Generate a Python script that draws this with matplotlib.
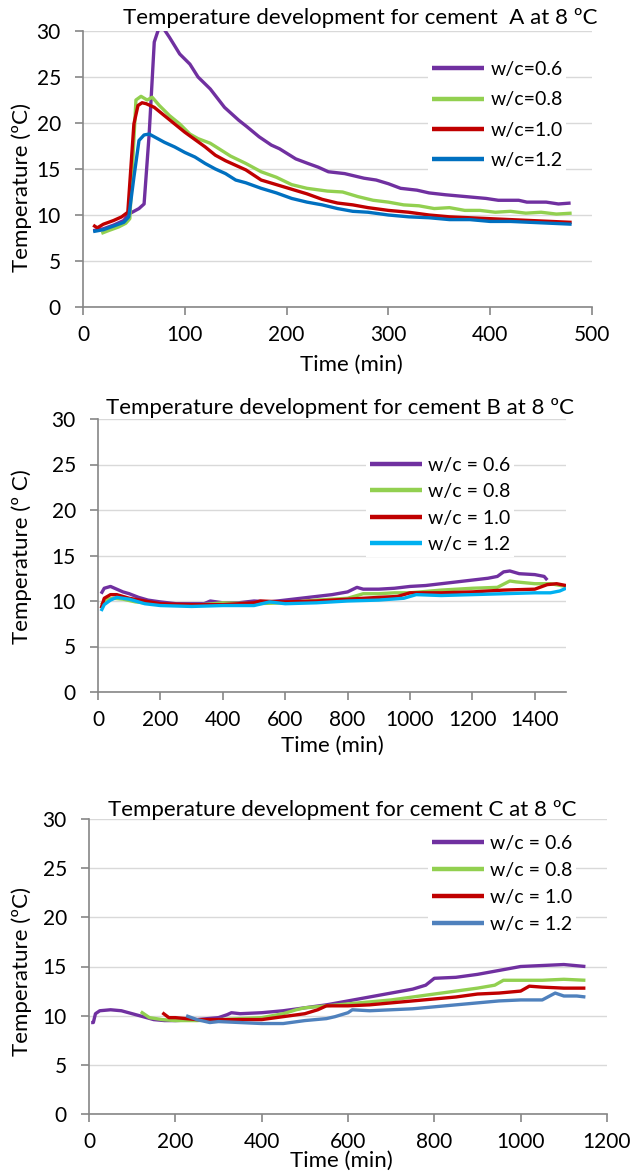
import matplotlib.pyplot as plt

plt.rcParams['font.family'] = ['Lato', 'DejaVu Sans']

W, H = 630, 1173

# ---- cement A ----
a_t06 = [10, 20, 30, 40, 45, 55, 60, 65, 70, 76, 85, 95, 105, 113, 125, 139, 153, 161, 173, 185, 193, 209, 221,
         231, 241, 257, 276, 288, 300, 312, 328, 340, 356, 376, 396, 408, 428, 436, 455, 467, 479]
a_T06 = [8.3, 8.5, 8.9, 9.4, 10.1, 10.7, 11.2, 18.8, 28.8, 30.8, 29.3, 27.5, 26.4, 25.0, 23.7, 21.7, 20.3, 19.6,
         18.5, 17.6, 17.2, 16.1, 15.6, 15.2, 14.7, 14.5, 14.0, 13.8, 13.4, 12.9, 12.7, 12.4, 12.2, 12.0, 11.8, 11.6,
         11.6, 11.4, 11.4, 11.2, 11.3]
a_t08 = [18, 25, 35, 42, 46, 52, 57, 63, 68, 75, 85, 95, 105, 113, 125, 135, 145, 160, 175, 190, 205, 220, 240,
         255, 270, 285, 300, 315, 330, 345, 360, 375, 390, 405, 420, 435, 450, 465, 480]
a_T08 = [8.0, 8.3, 8.7, 9.1, 9.6, 22.5, 22.9, 22.5, 22.8, 21.9, 20.8, 19.9, 18.8, 18.3, 17.8, 17.1, 16.4, 15.6,
         14.7, 14.1, 13.3, 12.9, 12.6, 12.5, 12.0, 11.6, 11.4, 11.1, 11.0, 10.7, 10.8, 10.5, 10.5, 10.3, 10.4,
         10.2, 10.3, 10.1, 10.2]
a_t10 = [10, 14, 20, 30, 38, 44, 50, 54, 58, 62, 70, 80, 90, 100, 110, 120, 130, 140, 150, 160, 175, 190, 205,
         220, 235, 250, 265, 280, 300, 320, 340, 360, 380, 400, 420, 440, 460, 480]
a_T10 = [8.9, 8.6, 9.0, 9.4, 9.8, 10.3, 19.9, 21.9, 22.2, 22.1, 21.7, 20.8, 19.9, 19.0, 18.2, 17.4, 16.5, 15.9,
         15.4, 14.9, 13.8, 13.3, 12.8, 12.3, 11.7, 11.3, 11.1, 10.8, 10.5, 10.3, 10.0, 9.8, 9.7, 9.6, 9.5, 9.4,
         9.3, 9.2]
a_t12 = [10, 20, 30, 40, 45, 50, 55, 60, 65, 70, 80, 90, 100, 110, 120, 130, 140, 150, 160, 175, 190, 205, 220,
         235, 250, 265, 280, 300, 320, 340, 360, 380, 400, 420, 440, 460, 480]
a_T12 = [8.2, 8.4, 8.8, 9.2, 9.8, 14.1, 18.1, 18.7, 18.8, 18.5, 17.9, 17.4, 16.8, 16.3, 15.6, 15.0, 14.5, 13.8,
         13.5, 12.9, 12.4, 11.8, 11.4, 11.1, 10.7, 10.4, 10.3, 10.0, 9.8, 9.7, 9.5, 9.5, 9.3, 9.3, 9.2, 9.1, 9.0]

# ---- cement B ----
b_t06 = [10, 20, 40, 60, 80, 100, 130, 160, 200, 250, 300, 340, 360, 380, 400, 450, 500, 550, 600, 650, 700,
         750, 800, 830, 850, 900, 950, 1000, 1050, 1100, 1150, 1200, 1250, 1280, 1300, 1320, 1350, 1400, 1430, 1440]
b_T06 = [10.8, 11.4, 11.6, 11.3, 11.0, 10.8, 10.4, 10.1, 9.9, 9.7, 9.7, 9.7, 10.0, 9.9, 9.8, 9.8, 10.0, 9.9,
         10.1, 10.3, 10.5, 10.7, 11.0, 11.5, 11.3, 11.3, 11.4, 11.6, 11.7, 11.9, 12.1, 12.3, 12.5, 12.7, 13.2,
         13.3, 13.0, 12.9, 12.7, 12.3]
b_t08 = [10, 30, 50, 80, 120, 200, 300, 400, 500, 600, 700, 800, 850, 900, 950, 1000, 1100, 1200, 1280, 1320,
         1340, 1400, 1450, 1500]
b_T08 = [9.6, 10.2, 10.3, 10.2, 9.9, 9.6, 9.5, 9.8, 9.7, 9.8, 10.1, 10.3, 10.8, 10.8, 10.9, 10.9, 11.2, 11.4,
         11.5, 12.2, 12.1, 11.9, 11.9, 11.6]
b_t10 = [10, 20, 40, 60, 100, 150, 200, 300, 400, 500, 520, 600, 700, 800, 900, 960, 1000, 1100, 1200, 1300,
         1400, 1440, 1470, 1500]
b_T10 = [9.2, 10.3, 10.7, 10.7, 10.3, 10.0, 9.7, 9.6, 9.6, 9.8, 10.0, 9.9, 10.0, 10.2, 10.4, 10.5, 10.9, 10.9,
         11.0, 11.2, 11.3, 11.8, 11.9, 11.7]
b_t12 = [10, 20, 40, 60, 100, 150, 200, 300, 400, 500, 550, 600, 700, 800, 900, 980, 1020, 1100, 1200, 1300,
         1400, 1450, 1480, 1500]
b_T12 = [8.9, 9.6, 10.1, 10.4, 10.2, 9.7, 9.5, 9.4, 9.5, 9.5, 9.9, 9.7, 9.8, 10.0, 10.1, 10.3, 10.7, 10.6,
         10.7, 10.8, 10.9, 10.9, 11.1, 11.4]

# ---- cement C ----
c_t06 = [5, 10, 15, 25, 50, 75, 100, 125, 150, 175, 200, 250, 300, 320, 330, 350, 400, 450, 500, 550, 600, 650,
         700, 750, 780, 800, 850, 900, 950, 1000, 1050, 1100, 1150]
c_T06 = [9.3, 9.3, 10.2, 10.5, 10.6, 10.5, 10.2, 9.9, 9.6, 9.5, 9.5, 9.6, 9.8, 10.1, 10.3, 10.2, 10.3, 10.5,
         10.8, 11.1, 11.5, 11.9, 12.3, 12.7, 13.1, 13.8, 13.9, 14.2, 14.6, 15.0, 15.1, 15.2, 15.0]
c_t08 = [120, 140, 170, 200, 250, 300, 350, 400, 450, 480, 500, 550, 600, 650, 700, 750, 800, 850, 900, 940, 960,
         1000, 1050, 1100, 1150]
c_T08 = [10.4, 9.8, 9.6, 9.5, 9.5, 9.6, 9.7, 9.8, 10.2, 10.6, 10.8, 11.0, 11.2, 11.4, 11.6, 11.9, 12.2, 12.5,
         12.8, 13.1, 13.6, 13.6, 13.6, 13.7, 13.6]
c_t10 = [170, 185, 200, 250, 300, 350, 400, 450, 500, 530, 550, 600, 650, 700, 750, 800, 850, 900, 950, 1000,
         1020, 1050, 1100, 1150]
c_T10 = [10.3, 9.8, 9.8, 9.6, 9.6, 9.6, 9.6, 9.9, 10.2, 10.6, 11.0, 11.0, 11.1, 11.3, 11.5, 11.7, 11.9, 12.2,
         12.3, 12.5, 13.0, 12.9, 12.8, 12.8]
c_t12 = [225, 250, 280, 300, 350, 400, 450, 500, 550, 570, 600, 610, 650, 700, 750, 800, 850, 900, 950, 1000,
         1050, 1080, 1100, 1130, 1150]
c_T12 = [10.0, 9.6, 9.3, 9.4, 9.3, 9.2, 9.2, 9.5, 9.7, 9.9, 10.3, 10.6, 10.5, 10.6, 10.7, 10.9, 11.1, 11.3,
         11.5, 11.6, 11.6, 12.3, 12.0, 12.0, 11.9]

purple, green, red = '#7030a0', '#92d050', '#c00000'

panels = [
    dict(box=(83, 592, 31, 307), xmax=500, xstep=100,
         series=[(a_t06, a_T06, purple, 'w/c=0.6'), (a_t08, a_T08, green, 'w/c=0.8'),
                 (a_t10, a_T10, red, 'w/c=1.0'), (a_t12, a_T12, '#0070c0', 'w/c=1.2')],
         title='Temperature development for cement  A at 8 ºC', title_xy=(360, 18),
         ylabel='Temperature (ºC)', ylabel_xy=(22, 188), xlabel_xy=(351, 365),
         leg_xy=(428, 57), leg_space=0.69),
    dict(box=(98, 566, 419, 692), xmax=1500, xstep=200, xtop=1400,
         series=[(b_t06, b_T06, purple, 'w/c = 0.6'), (b_t08, b_T08, green, 'w/c = 0.8'),
                 (b_t10, b_T10, red, 'w/c = 1.0'), (b_t12, b_T12, '#00b0f0', 'w/c = 1.2')],
         title='Temperature development for cement B at 8 ºC', title_xy=(340, 408),
         ylabel='Temperature (º C)', ylabel_xy=(22, 557), xlabel_xy=(332, 746),
         leg_xy=(366, 453), leg_space=0.48),
    dict(box=(89, 607, 819, 1114), xmax=1200, xstep=200,
         series=[(c_t06, c_T06, purple, 'w/c = 0.6'), (c_t08, c_T08, green, 'w/c = 0.8'),
                 (c_t10, c_T10, red, 'w/c = 1.0'), (c_t12, c_T12, '#4f81bd', 'w/c = 1.2')],
         title='Temperature development for cement C at 8 ºC', title_xy=(342, 810),
         ylabel='Temperature (ºC)', ylabel_xy=(22, 972), xlabel_xy=(341, 1161),
         leg_xy=(428, 831), leg_space=0.52),
]

fig = plt.figure(figsize=(W / 100, H / 100), dpi=100)


def fx(x):
    return x / W


def fy(y):
    return 1 - y / H


for p in panels:
    x0, x1, y0, y1 = p['box']
    ax = fig.add_axes([fx(x0), fy(y1), (x1 - x0) / W, (y1 - y0) / H])
    for t, T, col, lab in p['series']:
        ax.plot(t, T, color=col, lw=2.4, label=lab, solid_capstyle='butt')
    ax.set_xlim(0, p['xmax'])
    ax.set_ylim(0, 30)
    ax.set_xticks(range(0, p.get('xtop', p['xmax']) + 1, p['xstep']))
    ax.set_yticks(range(0, 31, 5))
    ax.yaxis.grid(True, color='#d9d9d9', lw=1)
    ax.set_axisbelow(True)
    for s in ['top', 'right']:
        ax.spines[s].set_visible(False)
    for s in ['left', 'bottom']:
        ax.spines[s].set_color('#868686')
        ax.spines[s].set_linewidth(1.2)
    ax.tick_params(length=6, width=1.2, color='#868686', labelsize=15)
    ax.tick_params(axis='y', pad=10)
    ax.tick_params(axis='x', pad=7)

    ax.set_xlabel('Time (min)', fontsize=16)
    ax.set_ylabel(p['ylabel'], fontsize=16)
    ax.xaxis.set_label_coords(fx(p['xlabel_xy'][0]), fy(p['xlabel_xy'][1]), transform=fig.transFigure)
    ax.yaxis.set_label_coords(fx(p['ylabel_xy'][0]), fy(p['ylabel_xy'][1]), transform=fig.transFigure)
    ax.xaxis.label.set_va('center')
    ax.yaxis.label.set_va('center')
    ax.yaxis.label.set_ha('center')

    fig.text(fx(p['title_xy'][0]), fy(p['title_xy'][1]), p['title'], fontsize=16,
             ha='center', va='center')

    leg = ax.legend(loc='upper left', bbox_to_anchor=(fx(p['leg_xy'][0]), fy(p['leg_xy'][1])),
                    bbox_transform=fig.transFigure, fontsize=14, frameon=True, fancybox=False,
                    facecolor='white', edgecolor='none', framealpha=1, borderpad=0.2,
                    borderaxespad=0, handlelength=2.7, handletextpad=0.3,
                    labelspacing=p['leg_space'])
    for h in leg.get_lines():
        h.set_linewidth(3.2)

fig.savefig('out.png', dpi=100)
